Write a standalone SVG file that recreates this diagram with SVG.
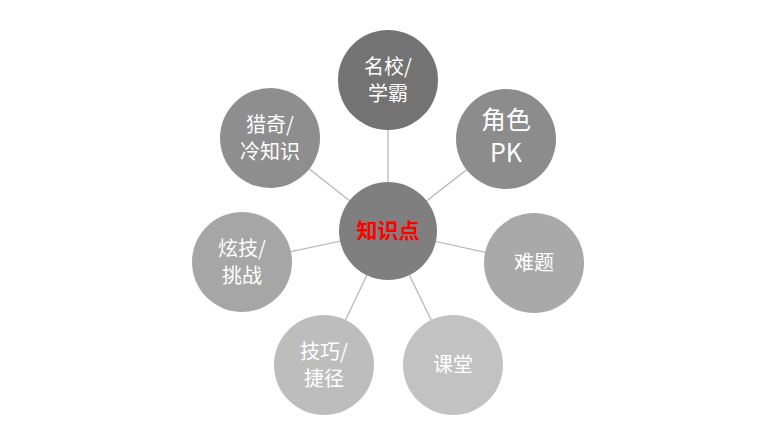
<svg xmlns="http://www.w3.org/2000/svg" width="773" height="443" viewBox="0 0 773 443">
<style>
text{font-family:"Noto Sans CJK SC","Liberation Sans",sans-serif;fill:#fff;text-anchor:middle;font-size:20px}
text.big{font-size:25px}
line{stroke:#b5b5b5;stroke-width:1.2}
</style>
<rect width="773" height="443" fill="#fff"/>
<g id="connectors">
<line x1="388" y1="231" x2="388" y2="80"/>
<line x1="388" y1="231" x2="506" y2="139"/>
<line x1="388" y1="231" x2="534" y2="263"/>
<line x1="388" y1="231" x2="453" y2="365"/>
<line x1="388" y1="231" x2="324" y2="365"/>
<line x1="388" y1="231" x2="242" y2="262"/>
<line x1="388" y1="231" x2="270" y2="138"/>
</g>
<g id="n1"><circle cx="388" cy="80" r="50" fill="#737373"/><text x="388" y="74">名校/</text><text x="388" y="101">学霸</text></g>
<g id="n2"><circle cx="506" cy="139" r="50" fill="#8c8c8c"/><text class="big" x="506" y="129">角色</text><text class="big" x="506" y="162">PK</text></g>
<g id="n3"><circle cx="534" cy="263" r="50" fill="#a9a9a9"/><text x="534" y="270">难题</text></g>
<g id="n4"><circle cx="453" cy="365" r="50" fill="#c2c2c2"/><text x="453" y="372">课堂</text></g>
<g id="n5"><circle cx="324" cy="365" r="50" fill="#bdbdbd"/><text x="324" y="359">技巧/</text><text x="324" y="386">捷径</text></g>
<g id="n6"><circle cx="242" cy="262" r="50" fill="#a6a6a6"/><text x="242" y="256">炫技/</text><text x="242" y="283">挑战</text></g>
<g id="n7"><circle cx="270" cy="138" r="50" fill="#8e8e8e"/><text x="270" y="132">猎奇/</text><text x="270" y="159">冷知识</text></g>
<g id="center"><circle cx="388" cy="231" r="49" fill="#7f7f7f"/><text x="388" y="238" style="fill:#ff0000;font-weight:bold;font-size:21px">知识点</text></g>
</svg>
